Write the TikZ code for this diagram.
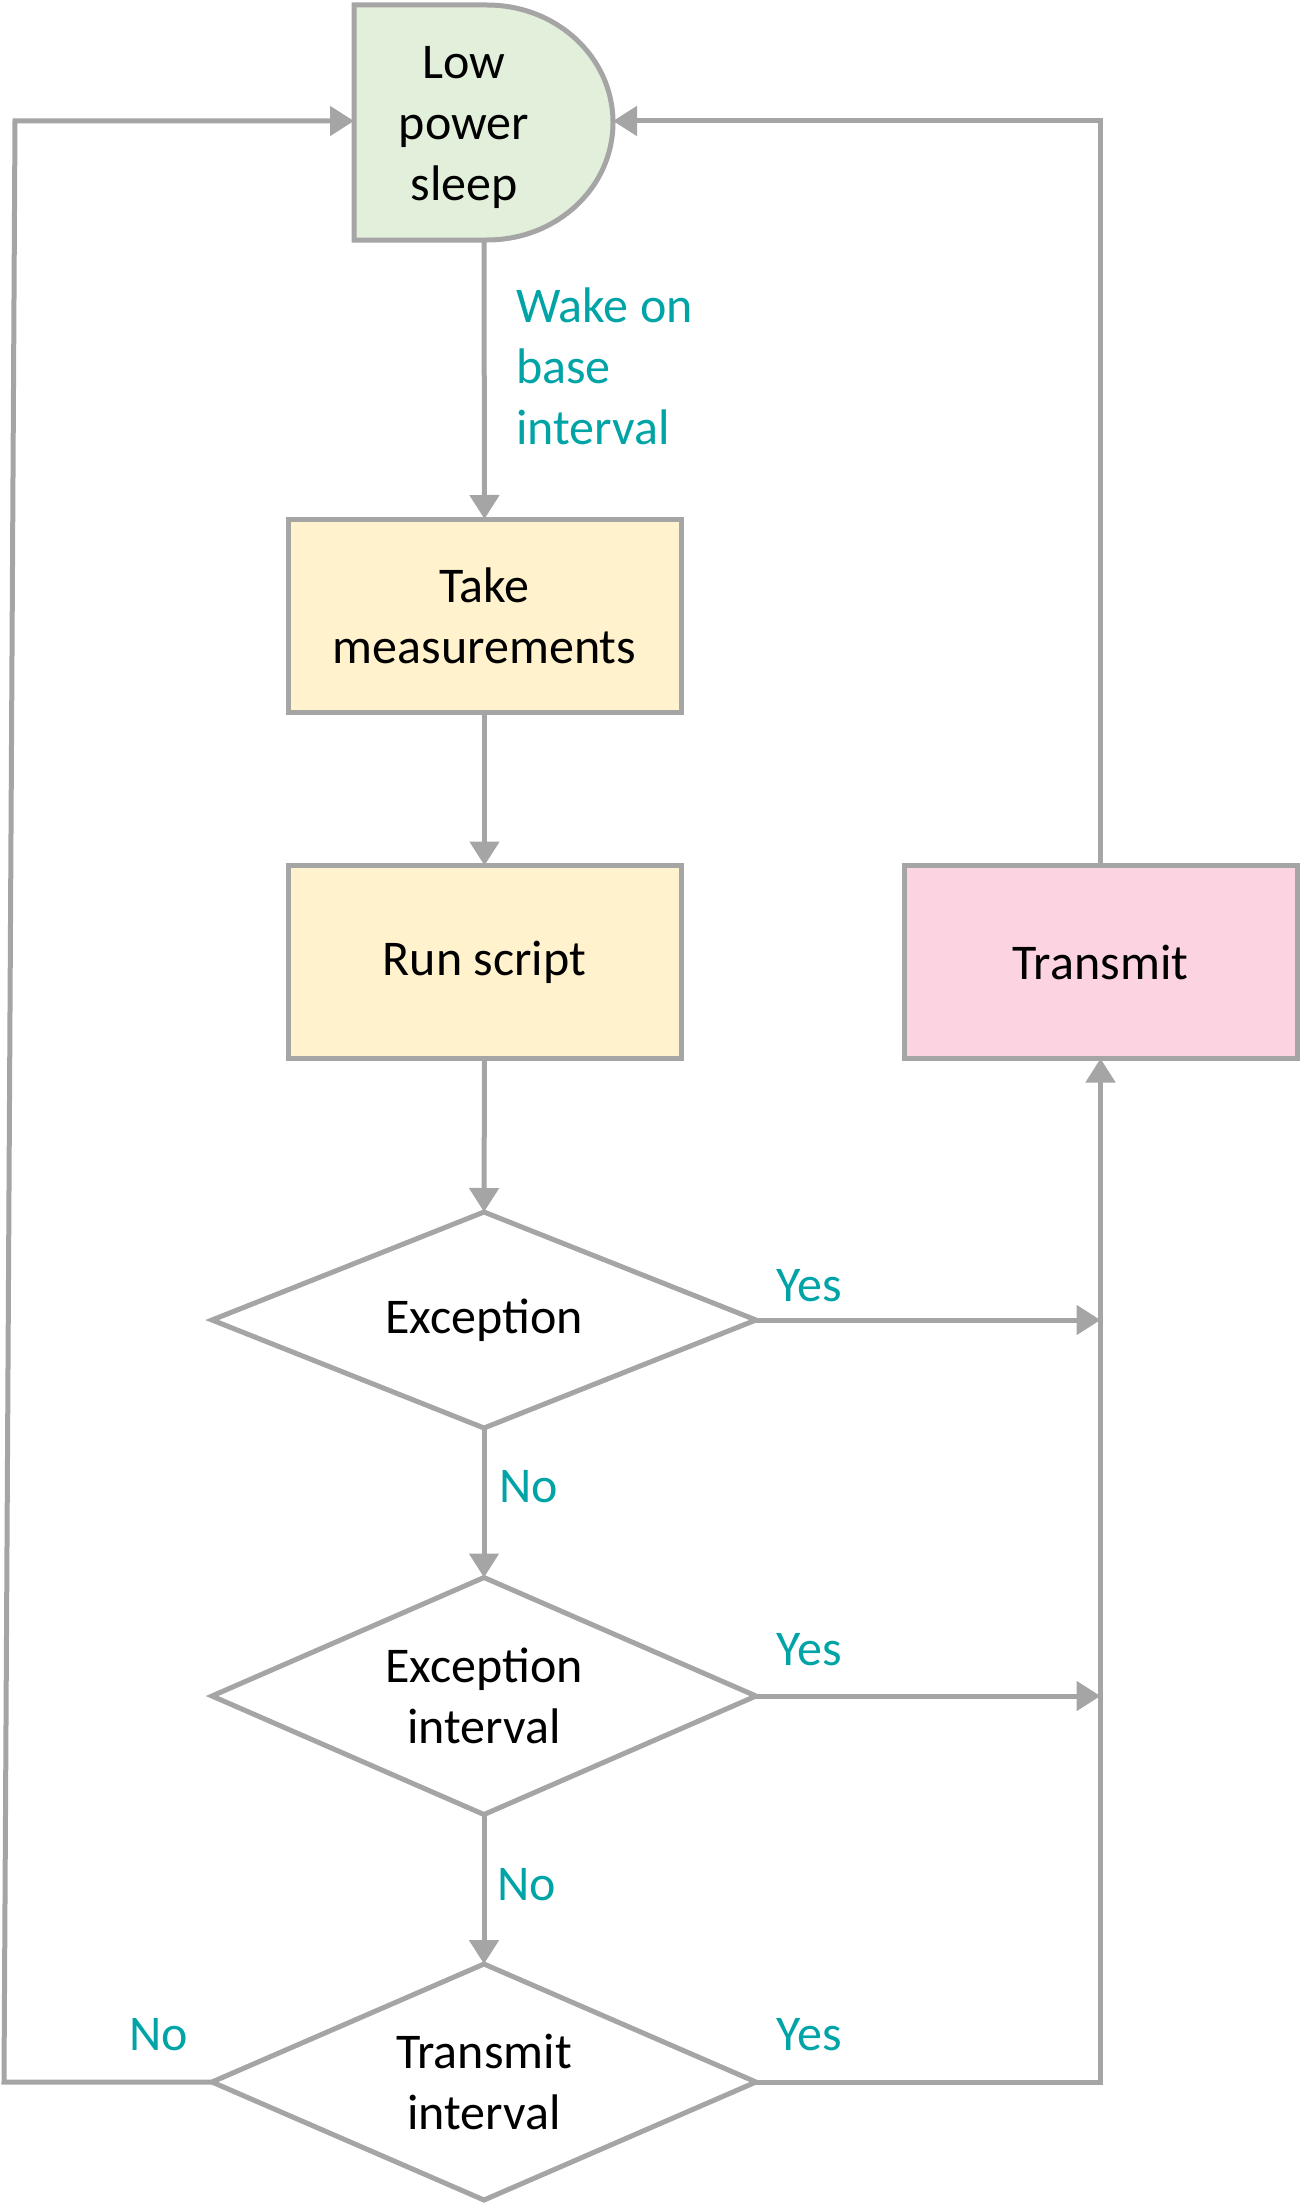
\documentclass[tikz,border=0pt]{standalone}
\usepackage{fontspec}
\setmainfont{Carlito}
\usetikzlibrary{arrows.meta,shapes.geometric}
\definecolor{lg}{HTML}{A5A5A5}
\definecolor{sleepfill}{HTML}{E2EFDA}
\definecolor{yel}{HTML}{FFF2CC}
\definecolor{pinkfill}{HTML}{FCD3E1}
\definecolor{teallbl}{HTML}{00A4A6}
\begin{document}
\begin{tikzpicture}[x=1pt,y=-1pt,
  every node/.style={font=\fontsize{50}{61}\selectfont, outer sep=0pt, inner sep=0pt},
  txt/.style={yshift=-4pt},
  box/.style={draw=lg, line width=5pt, minimum width=393pt, minimum height=193pt, align=center},
  dec/.style={draw=lg, line width=5pt, diamond, aspect=2.5, minimum width=544pt, align=center},
  lbl/.style={text=teallbl},
  conn/.style={draw=lg, line width=5pt},
  arr/.style={conn, -{Triangle[width=29pt,length=24pt]}}]
\useasboundingbox (0,0) rectangle (1301,2205);
% low power sleep (delay shape)
\draw[line width=5pt, draw=lg, fill=sleepfill] (354,5) -- (487,5)
  .. controls (557,5) and (613,57.5) .. (613,122.5)
  .. controls (613,187.5) and (557,240) .. (487,240) -- (354,240) -- cycle;
\node[align=center, txt] (sleep) at (464,123) {Low\\power\\sleep};
\coordinate (sleepW) at (354,121);
\coordinate (sleepE) at (613,121);
\coordinate (sleepS) at (484,240);
% boxes
\node[box, fill=yel] (meas) at (484.5,615.5) {Take\\measurements};
\node[box, fill=yel] (run) at (484.5,962) {Run script};
\node[box, fill=pinkfill] (trans) at (1100.5,962) {Transmit};
% decisions
\node[dec, minimum height=216pt] (ex) at (484,1320) {Exception};
\node[dec, minimum height=237pt] (exi) at (484,1696) {Exception\\interval};
\node[dec, minimum height=236pt] (tri) at (484,2082) {Transmit\\interval};
% corners
\coordinate (lb) at (4,2082);
\coordinate (lt) at (15,121);
% connectors
\draw[arr] (sleepS) -- (meas.north);
\draw[arr] (meas.south) -- (run.north);
\draw[arr] (run.south) -- (ex.north);
\draw[arr] (ex.south) -- (exi.north);
\draw[arr] (exi.south) -- (tri.north);
\draw[arr] (ex.east) -- (trans.south |- ex.east);
\draw[arr] (exi.east) -- (trans.south |- exi.east);
\draw[arr] (tri.east) -- (trans.south |- tri.east) -- (trans.south);
\draw[arr] (trans.north) |- (sleepE);
\draw[arr] (tri.west) -- (lb) -- (lt) -- (sleepW);
% labels
\node[lbl, anchor=west, align=left] (wake) at (516,366) {Wake on\\base\\interval};
\node[lbl] (yes1) at (809,1286) {Yes};
\node[lbl] (yes2) at (809,1650) {Yes};
\node[lbl] (yes3) at (809,2035) {Yes};
\node[lbl] (no1) at (529,1487) {No};
\node[lbl] (no2) at (527,1885) {No};
\node[lbl] (no3) at (159,2035) {No};
\end{tikzpicture}
\end{document}
